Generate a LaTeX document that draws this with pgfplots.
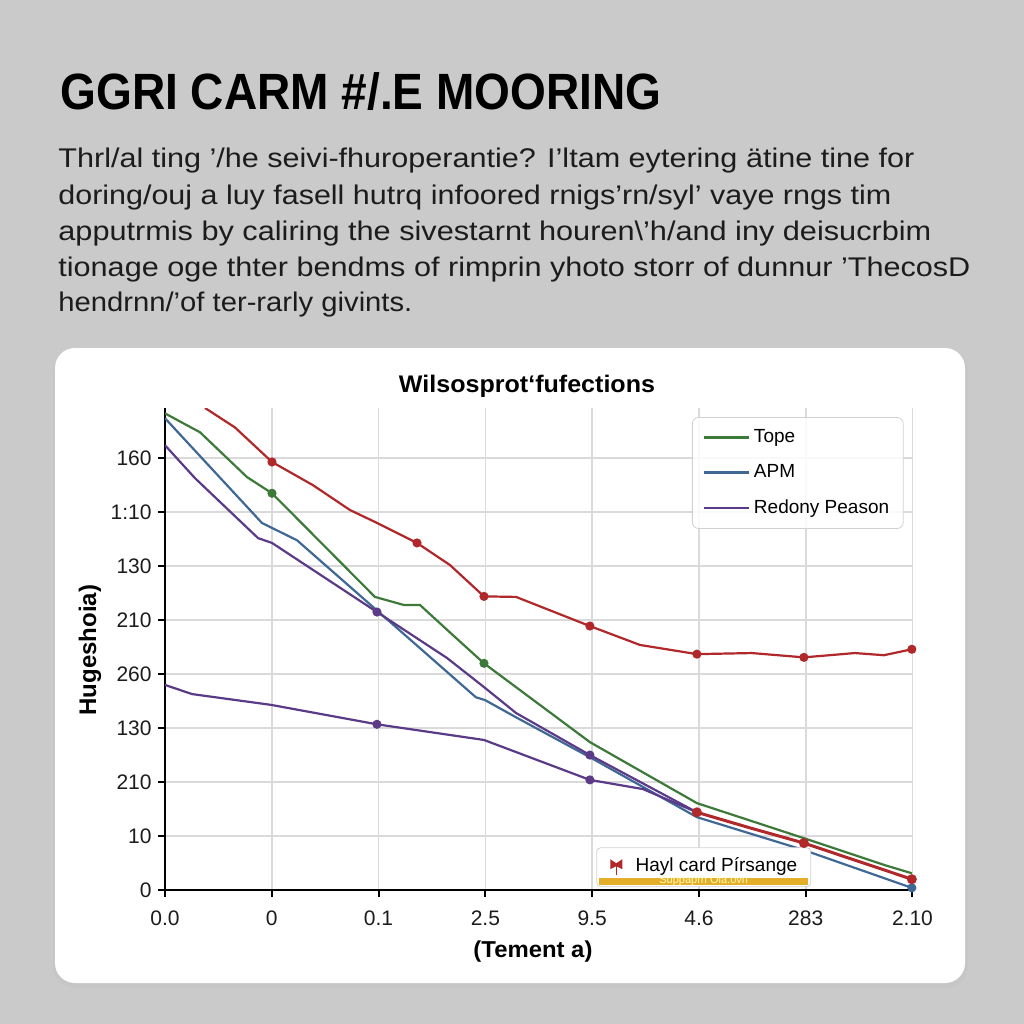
\documentclass[border=0pt]{standalone}
\usepackage{pgfplots}
\pgfplotsset{compat=1.18}
\usepackage{graphicx}
\usepackage{fontspec}
\setmainfont{Liberation Sans}
\definecolor{bg}{HTML}{CACACA}
\definecolor{cgreen}{HTML}{3D7A3A}
\definecolor{cblue}{HTML}{3F6894}
\definecolor{cpurple}{HTML}{5B3A88}
\definecolor{cred}{HTML}{B0282A}
\definecolor{cgrid}{HTML}{DADADA}
\definecolor{cyellow}{HTML}{E4AE28}
\definecolor{ctext}{HTML}{1C1C1C}
\begin{document}
\begin{tikzpicture}
\begin{scope}[x=0.5pt,y=-0.5pt]
\fill[bg] (0,0) rectangle (1024,1024);
\useasboundingbox (0,0) rectangle (1024,1024);
% panel
\fill[black!25, opacity=0.35, rounded corners=11pt] (53,350) rectangle (968,988);
\fill[white, rounded corners=10pt] (55,348) rectangle (965,983);
% heading
\node[anchor=base west, inner sep=0, text=black] at (60,109) {\resizebox{300.5pt}{\height}{\bfseries\fontsize{25.5}{25.5}\selectfont GGRI CARM \#/.E MOORING}};
% paragraph
\node[anchor=base west, inner sep=0, text=ctext] at (58,167) {\resizebox{428pt}{\height}{\fontsize{13.5}{13.5}\selectfont Thrl/al ting '/he seivi-fhuroperantie? I'ltam eytering ätine tine for}};
\node[anchor=base west, inner sep=0, text=ctext] at (58,204) {\resizebox{416.5pt}{\height}{\fontsize{13.5}{13.5}\selectfont doring/ouj a luy fasell hutrq infoored rnigs'rn/syl' vaye rngs tim}};
\node[anchor=base west, inner sep=0, text=ctext] at (58,240) {\resizebox{436.5pt}{\height}{\fontsize{13.5}{13.5}\selectfont apputrmis by caliring the sivestarnt houren\textbackslash'h/and iny deisucrbim}};
\node[anchor=base west, inner sep=0, text=ctext] at (58,276) {\resizebox{456pt}{\height}{\fontsize{13.5}{13.5}\selectfont tionage oge thter bendms of rimprin yhoto storr of dunnur 'ThecosD}};
\node[anchor=base west, inner sep=0, text=ctext] at (58,311) {\resizebox{177pt}{\height}{\fontsize{13.5}{13.5}\selectfont hendrnn/'of ter-rarly givints.}};
% chart title
\node[anchor=base, inner sep=0] at (527,392) {\resizebox{128pt}{\height}{\bfseries\fontsize{12}{12}\selectfont Wilsosprot‘fufections}};
% x label
\node[anchor=base, inner sep=0] at (533,957) {\resizebox{59.5pt}{\height}{\bfseries\fontsize{11.5}{11.5}\selectfont (Tement a)}};
% y label
\node[anchor=base, inner sep=0, rotate=90] at (96,650) {\bfseries\fontsize{12}{12}\selectfont Hugeshoia)};
\end{scope}

\begin{axis}[
  at={(82.5pt,-445pt)}, anchor=south west,
  scale only axis, width=373.75pt, height=241pt,
  xmin=0, xmax=7, ymin=0, ymax=8.93,
  clip=true,
  axis lines*=left,
  axis line style={black, line width=1.3pt},
  grid=major,
  major grid style={cgrid, line width=0.8pt},
  xtick={0,1,2,3,4,5,6,7},
  xticklabels={0.0,0,0.1,2.5,9.5,4.6,283,2.10},
  ytick={0,1,2,3,4,5,6,7,8},
  yticklabels={0,10,210,130,260,210,130,1:10,160},
  tick align=outside, major tick length=3.5pt,
  tick style={black, line width=1pt},
  ticklabel style={font=\fontsize{10.5}{10.5}\selectfont, text=ctext},
  /pgf/number format/assume math mode=true,
  xticklabel style={anchor=north, inner sep=0pt, yshift=-6.5pt},
  yticklabel style={anchor=east, inner sep=0pt, xshift=-3pt},
  legend style={at={(0.705,0.981)}, anchor=north west, draw=black!18, fill=white, fill opacity=0.85, text opacity=1,
     rounded corners=3pt, font=\fontsize{9.5}{9.5}\selectfont, row sep=5.5pt, inner xsep=5pt, inner ysep=4pt,
     cells={anchor=west}},
  legend image code/.code={\draw[#1, line width=1.3pt] (0pt,0pt) -- (22.5pt,0pt);},
  every axis plot/.append style={line width=1.1pt, mark size=1.7pt},
]
\addplot[cgreen, mark=*, mark indices={4,9}] coordinates {
 (0,8.83) (0.328,8.48) (0.768,7.65) (1.002,7.35) (1.966,5.43) (2.238,5.28) (2.388,5.28)
 (2.725,4.67) (2.987,4.20) (3.979,2.74) (4.981,1.61) (5.983,0.96) (6.742,0.46) (6.994,0.31)};
\addlegendentry{Tope}
\addplot[cblue, mark=*, mark indices={10}] coordinates {
 (0,8.74) (0.908,6.80) (1.236,6.48) (2.912,3.57) (2.996,3.52) (3.287,3.20) (3.979,2.46)
 (4.981,1.35) (5.983,0.74) (6.994,0.04)};
\addlegendentry{APM}
\addplot[cpurple, mark=*, mark indices={5,9}] coordinates {
 (0,8.24) (0.281,7.63) (0.871,6.52) (1.002,6.43) (1.985,5.15) (2.640,4.30) (2.987,3.76)
 (3.287,3.28) (3.979,2.50) (4.981,1.44)};
\addlegendentry{Redony Peason}
\addplot[cpurple, mark=*, mark indices={4,6}, forget plot] coordinates {
 (0,3.80) (0.253,3.63) (0.993,3.43) (1.985,3.07) (2.987,2.78) (3.979,2.04) (4.476,1.87) (4.981,1.44)};
\addplot[cred, line width=1.5pt, mark=*, mark indices={1,3,5}, forget plot] coordinates {
 (4.981,1.44) (5.48,1.15) (5.983,0.87) (6.51,0.52) (6.994,0.20)};
\addplot[cred, mark=*, mark indices={3,7,9,11,13,15,18}, forget plot] coordinates {
 (0.375,8.93) (0.655,8.57) (1.002,7.93) (1.386,7.50) (1.732,7.04) (1.976,6.81) (2.360,6.43)
 (2.669,6.02) (2.987,5.44) (3.287,5.43) (3.979,4.89) (4.448,4.54) (4.981,4.37) (5.496,4.39)
 (5.983,4.31) (6.461,4.39) (6.732,4.35) (6.994,4.46)};
% second annotation box
\node[anchor=south west, draw=black!18, fill=white, rounded corners=2pt, minimum width=107pt, minimum height=19.5pt, inner sep=0pt]
  (hbox) at (rel axis cs:0.577,0.006) {};
\fill[cyellow] ([xshift=1.5pt,yshift=1pt]hbox.south west) rectangle ([xshift=-1.5pt,yshift=4.5pt]hbox.south east);
\node[anchor=base, inner sep=0, text=yellow!30] at ([yshift=1.6pt]hbox.south) {\fontsize{5.5}{5.5}\selectfont Suppaprh Ola.ovn};
\node[anchor=base west, inner sep=0, text=black] at ([xshift=19.5pt,yshift=-2pt]hbox.west) {\fontsize{9.5}{9.5}\selectfont Hayl card Pírsange};
\fill[cred] ([xshift=7pt,yshift=4pt]hbox.west) -- ++(3pt,-2pt) -- ++(3pt,2pt) -- ++(0,-5pt) -- ++(-3pt,1.5pt) -- ++(-3pt,-1.5pt) -- cycle;
\draw[cred, line width=0.8pt] ([xshift=10pt,yshift=2pt]hbox.west) -- ++(0,-6pt);
\end{axis}
\end{tikzpicture}
\end{document}
